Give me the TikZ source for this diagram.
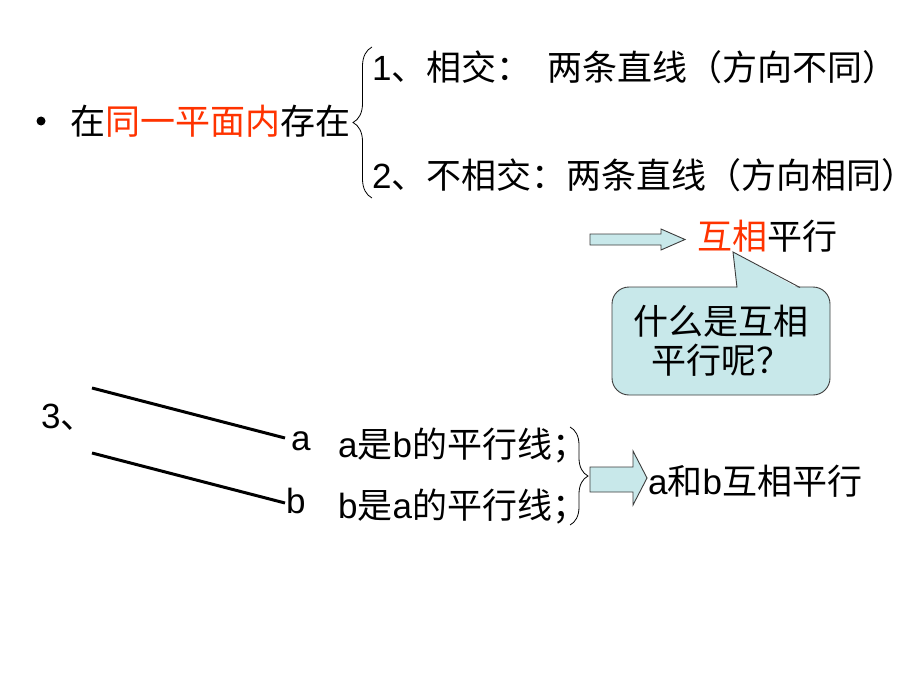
\documentclass[tikz,border=0pt]{standalone}
\usepackage{fontspec}
\setmainfont{Liberation Sans}
\newfontfamily\cjk{Noto Sans CJK SC}
\usetikzlibrary{shapes,calc,positioning,decorations.pathreplacing}
\definecolor{hred}{RGB}{255,51,0}
\definecolor{pale}{RGB}{200,232,234}
\definecolor{edge}{RGB}{60,60,60}

\begin{document}
\begin{tikzpicture}[x=1pt,y=-1pt,
        txt/.style={anchor=base west,inner sep=0pt,font=\fontsize{35pt}{39pt}\selectfont},
        brc/.style={decorate,decoration={brace,amplitude=#1},line width=0.8pt},
        blk/.style={draw=edge,fill=pale,line width=0.9pt,line join=miter}]
        \useasboundingbox (0,0) rectangle (920,690);
        %\draw [help lines,step=50] (0,0) grid (920,690);

        \node [circle,fill,inner sep=0pt,minimum size=9pt] (bul) at (41,121) {};
        \node [txt] (same) at (70,135) {\cjk 在\textcolor{hred}{同一平面内}存在};

        \draw [brc=19] (372,198) -- (372,47);
        \node [txt] (c1) at (372,81) {1{\cjk 、相交：\hspace{16pt}两条直线（方向不同）}};
        \node [txt] (c2) at (372,188) {2{\cjk 、不相交：两条直线（方向相同）}};

        \draw [blk] (590,234) -- (661,234) -- (661,229) -- (685,239.5) -- (661,250) -- (661,245) -- (590,245) -- cycle;
        \node [txt] (name) at (697,249) {\cjk \textcolor{hred}{互相}平行};

        % callout
        \node [draw=edge,fill=pale,rounded corners=17pt,minimum width=218pt,minimum height=108pt,
            line width=0.9pt,inner sep=0pt,align=center,font=\fontsize{35pt}{39pt}\selectfont\cjk] (ask) at (721,341) {什么是互相\\平行呢？};
        \fill [pale] (737,289) -- (733,252) -- (800,289) -- cycle;
        \draw [edge,line width=0.9pt] (737,287.5) -- (733,252) -- (800,287.5);

        \node [txt] (n3) at (41,428) {3{\cjk 、}};

        \coordinate (a0) at (92,388);
        \coordinate (a1) at (285,438);
        \coordinate (b0) at (92,453);
        \coordinate (b1) at (285,503);
        \draw [line width=3pt] (a0) -- (a1);
        \draw [line width=3pt] (b0) -- (b1);
        \node [txt] (la) at (291,450) {a};
        \node [txt] (lb) at (286,513) {b};

        \node [txt] (ab) at (338,457) {a{\cjk 是}b{\cjk 的平行线；}};
        \node [txt] (ba) at (338,518) {b{\cjk 是}a{\cjk 的平行线；}};
        \draw [brc=18] (570,427) -- (570,525);

        \draw [blk] (590,467) -- (633,467) -- (633,451) -- (647,478) -- (633,505) -- (633,492) -- (590,492) -- cycle;
        \node [txt] (res) at (648,494) {a{\cjk 和}b{\cjk 互相平行}};

\end{tikzpicture}
\end{document}
